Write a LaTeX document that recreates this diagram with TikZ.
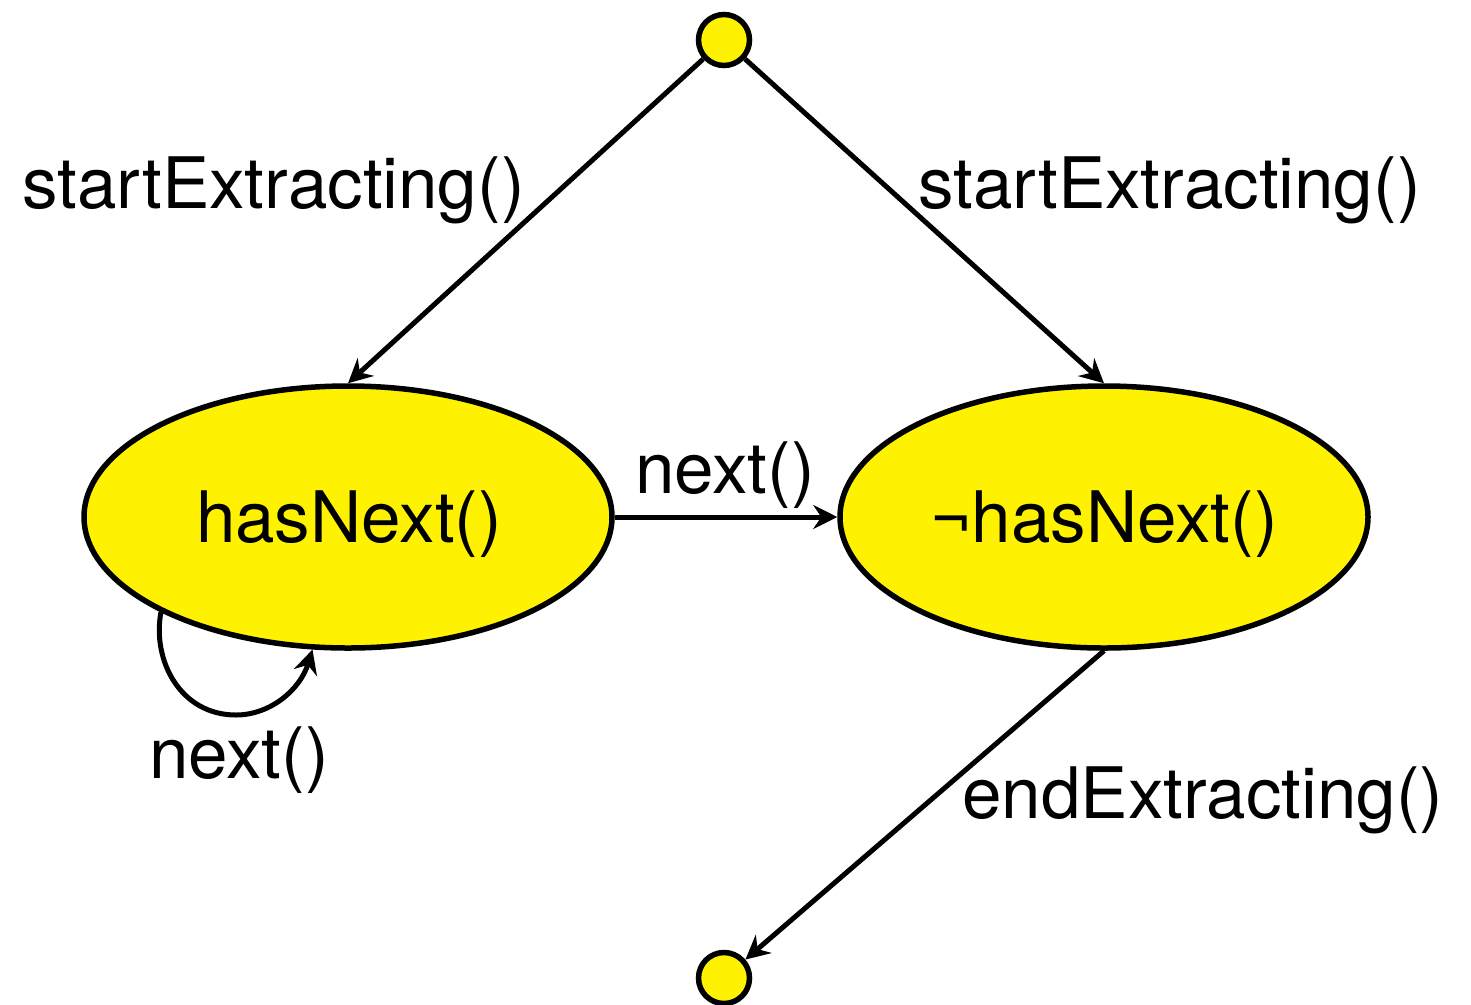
\documentclass[tikz,border=0pt]{standalone}
\usepackage{fontspec}
\setmainfont{TeX Gyre Heros}
\usetikzlibrary{arrows.meta,shapes.geometric}
\begin{document}
\begin{tikzpicture}[x=1pt,y=-1pt,
  state/.style={ellipse,draw=black,fill=yellow,line width=5.5pt,minimum width=528pt,minimum height=262pt,inner sep=0pt},
  term/.style={circle,draw=black,fill=yellow,line width=5.5pt,minimum size=51pt,inner sep=0pt},
  trans/.style={line width=5pt,-{Stealth[length=24pt,width=24pt,inset=8pt]}},
  lbl/.style={anchor=base west,inner sep=0pt,font=\fontsize{71}{82}\selectfont}]
\useasboundingbox (0,0) rectangle (1471,1004);
\node[term] (T) at (724,40) {};
\node[term] (B) at (724,978) {};
\node[state] (L) at (348,517) {};
\node[state] (R) at (1104,517) {};
\node[lbl,anchor=base] (hn) at (349,542) {hasNext()};
\node[lbl,anchor=base] (nhn) at (1104,542) {¬hasNext()};
\node[lbl] (s1) at (22,208) {startExtracting()};
\node[lbl] (s2) at (918,208) {startExtracting()};
\node[lbl] (n1) at (635,493) {next()};
\node[lbl] (n2) at (149,778) {next()};
\node[lbl] (e1) at (962,818) {endExtracting()};
\draw[trans] (T) -- (L.north);
\draw[trans] (T) -- (R.north);
\draw[trans] (L.east) -- (R.west);
\draw[trans] (R.south) -- (B);
\draw[trans] (L.207) .. controls (152,660) and (180,715) .. (236,715) .. controls (270,715) and (300,690) .. (L.255);
\end{tikzpicture}
\end{document}
